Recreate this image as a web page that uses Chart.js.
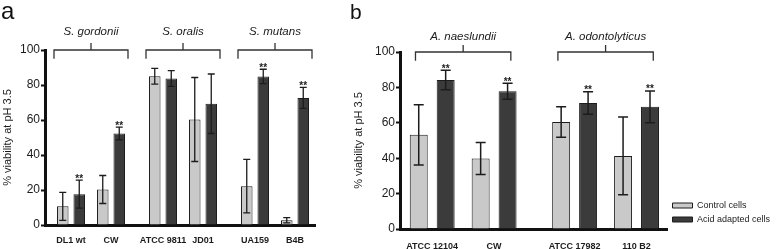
<!DOCTYPE html>
<html>
<head>
<meta charset="utf-8">
<script src="https://cdn.jsdelivr.net/npm/chart.js@4.4.0/dist/chart.umd.min.js"></script>
<style>
  html, body { margin: 0; padding: 0; background: #fff; }
  #wrap { position: relative; width: 778px; height: 249px; overflow: hidden; }
  canvas { position: absolute; top: 0; }
  .letter { position: absolute; font-family: "Liberation Sans", Arial, sans-serif; line-height: 1; color: #111; }
</style>
</head>
<body>
<div id="wrap">
  <canvas id="chartA" width="345" height="249" style="left:0"></canvas>
  <canvas id="chartB" width="433" height="249" style="left:345px"></canvas>
  <div class="letter" style="left:1px;top:-1px;font-size:24px">a</div>
  <div class="letter" style="left:350px;top:1px;font-size:21px">b</div>
</div>
<script>
const yTicks = [0, 20, 40, 60, 80, 100];
const seriesNames = ["Control cells", "Acid adapted cells"];

// panel a - streptococci
const strainsA = ["DL1 wt", "CW", "ATCC 9811", "JD01", "UA159", "B4B"];
const speciesA = ["S. gordonii", "S. oralis", "S. mutans"];
const controlA = [10.7, 20.3, 85.0, 60.3, 22.2, 2.7];
const controlErrA = [8.0, 8.0, 4.5, 24.0, 15.3, 1.5];
const acidA = [17.6, 52.3, 83.7, 69.3, 84.9, 72.6];
const acidErrA = [8.0, 3.6, 4.5, 17.0, 4.1, 6.0];
const acidSigA = [true, true, false, false, true, true];

// panel b - actinomyces
const strainsB = ["ATCC 12104", "CW", "ATCC 17982", "110 B2"];
const speciesB = ["A. naeslundii", "A. odontolyticus"];
const controlB = [53.2, 39.8, 60.5, 41.3];
const controlErrB = [17.0, 9.0, 8.6, 22.0];
const acidB = [84.2, 77.8, 71.2, 69.0];
const acidErrB = [5.5, 4.5, 6.3, 9.0];
const acidSigB = [true, true, true, true];

const SANS = "'Liberation Sans', Arial, sans-serif";
const INK = "#1c1c1c";

// two strains per species, a little extra gap between species
function strainPositions(n, gap) {
    return Array.from({ length: n }, (_, i) => Math.floor(i / 2) * (2 + gap) + (i % 2));
}

const annotate = {
    id: "annotate",
    afterDatasetsDraw(chart, args, opts) {
        const ctx = chart.ctx;
        const xs = chart.scales.x, ys = chart.scales.y;
        ctx.save();
        ctx.strokeStyle = INK;
        ctx.fillStyle = INK;

        // error bars
        ctx.lineWidth = opts.errWidth;
        chart.data.datasets.forEach((ds, di) => {
            chart.getDatasetMeta(di).data.forEach((bar, i) => {
                const v = ds.data[i].y, e = ds.errors[i];
                const top = ys.getPixelForValue(v + e);
                const bot = ys.getPixelForValue(Math.max(v - e, 0));
                ctx.beginPath();
                ctx.moveTo(bar.x, top); ctx.lineTo(bar.x, bot);
                ctx.moveTo(bar.x - opts.cap, top); ctx.lineTo(bar.x + opts.cap, top);
                ctx.moveTo(bar.x - opts.cap, bot); ctx.lineTo(bar.x + opts.cap, bot);
                ctx.stroke();
                if (ds.sig && ds.sig[i]) {
                    ctx.font = "bold 10px " + SANS;
                    ctx.textAlign = "center";
                    ctx.textBaseline = "alphabetic";
                    ctx.fillText("**", bar.x, top + 1.5);
                }
            });
        });

        // species brackets
        ctx.lineWidth = 1.3;
        ctx.strokeStyle = "#333";
        const yLine = ys.getPixelForValue(100);
        const yFoot = ys.getPixelForValue(95);
        opts.species.forEach((name, s) => {
            const mid = (opts.pos[2 * s] + opts.pos[2 * s + 1]) / 2;
            const l = xs.getPixelForValue(mid - opts.half);
            const r = xs.getPixelForValue(mid + opts.half);
            const c = xs.getPixelForValue(mid);
            ctx.beginPath();
            ctx.moveTo(l, yFoot); ctx.lineTo(l, yLine); ctx.lineTo(r, yLine); ctx.lineTo(r, yFoot);
            ctx.moveTo(c, yLine); ctx.lineTo(c, yLine - 7);
            ctx.stroke();
            ctx.font = "italic 11.5px " + SANS;
            ctx.textAlign = "center";
            ctx.textBaseline = "middle";
            ctx.fillText(name, c, yLine - opts.labelLift);
        });
        ctx.restore();
    }
};

function makeChart(id, p) {
    const pos = strainPositions(p.strains.length, 0.3);
    const toXY = vals => vals.map((v, i) => ({ x: pos[i], y: v }));
    return new Chart(document.getElementById(id), {
        type: "bar",
        data: {
            datasets: [{
                label: seriesNames[0],
                data: toXY(p.control),
                errors: p.controlErr,
                backgroundColor: "#c9c9c9",
                borderColor: INK,
                borderWidth: 1,
                categoryPercentage: p.catPct,
                barPercentage: p.barPct
            }, {
                label: seriesNames[1],
                data: toXY(p.acid),
                errors: p.acidErr,
                sig: p.sig,
                backgroundColor: "#3b3b3b",
                borderColor: INK,
                borderWidth: 1,
                categoryPercentage: p.catPct,
                barPercentage: p.barPct
            }]
        },
        options: {
            responsive: false,
            animation: false,
            layout: { padding: p.padding },
            scales: {
                x: {
                    type: "linear",
                    offset: false,
                    min: p.xMin,
                    max: p.xMax,
                    grid: { display: false, drawTicks: false },
                    border: { display: true, color: "#111", width: 3 },
                    afterBuildTicks: scale => { scale.ticks = pos.map(v => ({ value: v })); },
                    afterFit: scale => { scale.height = p.xHeight; },
                    ticks: {
                        autoSkip: false,
                        maxRotation: 0,
                        padding: p.xPad,
                        color: INK,
                        font: { family: SANS, size: 9, weight: "bold" },
                        callback: (value, index) => p.strains[index]
                    }
                },
                y: {
                    min: 0,
                    max: 100,
                    afterBuildTicks: scale => { scale.ticks = yTicks.map(v => ({ value: v })); },
                    afterFit: scale => { scale.width = p.yWidth; },
                    grid: { drawOnChartArea: false, drawTicks: true, tickLength: 4, tickWidth: 2, tickColor: "#111" },
                    border: { display: true, color: "#111", width: 3 },
                    ticks: { padding: 1, color: INK, font: { family: SANS, size: 12 } },
                    title: {
                        display: true,
                        text: "% viability at pH 3.5",
                        color: INK,
                        font: { family: SANS, size: 11 },
                        padding: { top: p.titlePad, bottom: 0 }
                    }
                }
            },
            plugins: {
                legend: {
                    display: p.legend,
                    position: "right",
                    align: "end",
                    fullSize: false,
                    labels: {
                        boxWidth: 20,
                        boxHeight: 5,
                        padding: 5,
                        color: INK,
                        font: { family: SANS, size: 9 }
                    }
                },
                tooltip: { enabled: false },
                annotate: { pos, species: p.species, half: p.half, cap: p.cap, errWidth: p.errWidth, labelLift: p.labelLift }
            }
        },
        plugins: [annotate]
    });
}

makeChart("chartA", {
    strains: strainsA, species: speciesA,
    control: controlA, controlErr: controlErrA, acid: acidA, acidErr: acidErrA, sig: acidSigA,
    xMin: -0.65, xMax: 6.1, catPct: 0.825, barPct: 0.7,
    padding: { top: 50, right: 30, bottom: 0, left: 0 },
    xHeight: 24, yWidth: 45, xPad: 10, titlePad: 1.5,
    half: 0.925, cap: 3.5, errWidth: 1.3, labelLift: 18, legend: false
});

makeChart("chartB", {
    strains: strainsB, species: speciesB,
    control: controlB, controlErr: controlErrB, acid: acidB, acidErr: acidErrB, sig: acidSigB,
    xMin: -0.52, xMax: 3.8, catPct: 0.87, barPct: 0.667,
    padding: { top: 52, right: 3, bottom: 0, left: 0 },
    xHeight: 20, yWidth: 55, xPad: 12, titlePad: 7.4,
    half: 0.77, cap: 5, errWidth: 1.5, labelLift: 15, legend: true
});
</script>
</body>
</html>
